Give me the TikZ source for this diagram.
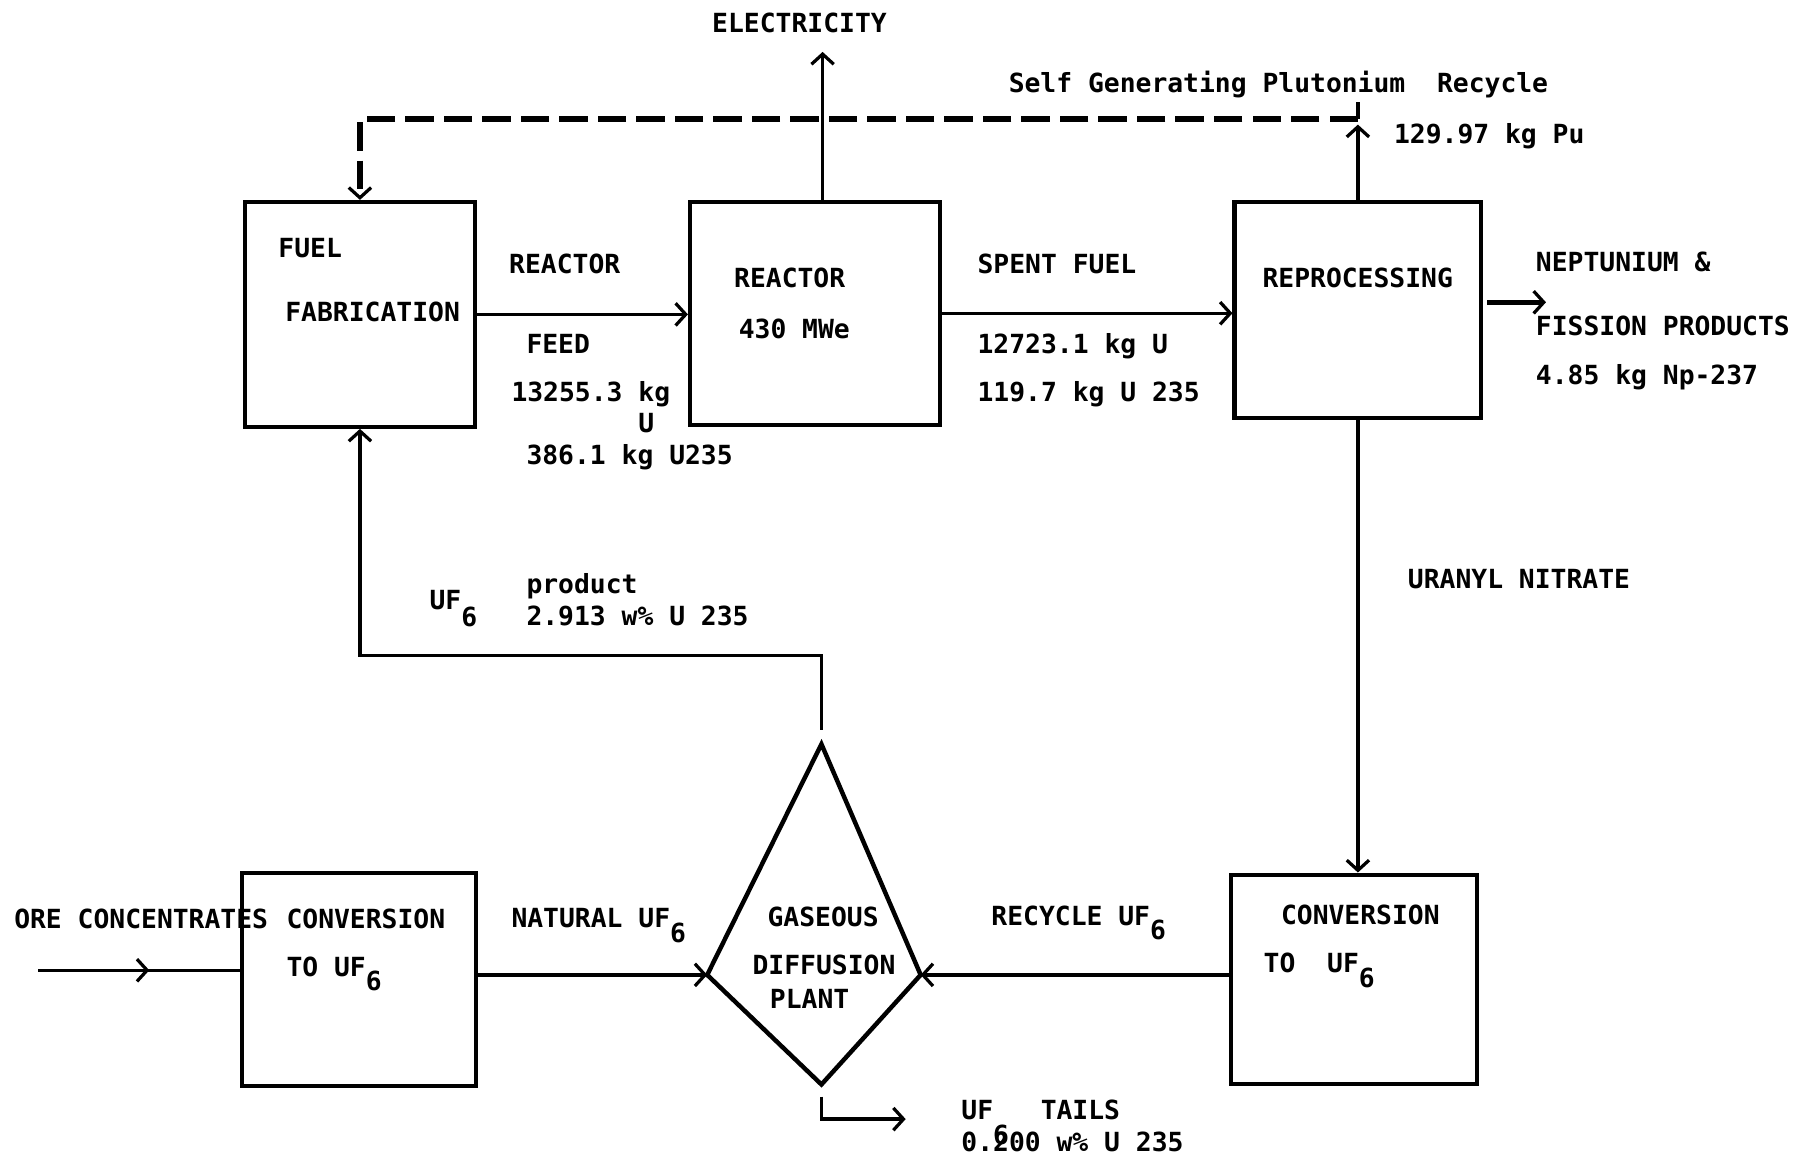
\documentclass[tikz,border=0pt]{standalone}
\usepackage{fontspec}
\newfontfamily\typewriter{DejaVu Sans Mono}
\usetikzlibrary{arrows.meta,decorations.markings}
\newcommand{\low}[2][0.55em]{\raisebox{-#1}{#2}}

\begin{document}
\begin{tikzpicture}[x=0.02cm, y=-0.02cm,
  >={Straight Barb[length=5pt,width=11pt,line width=1.6pt]},
  box/.style={draw, line width=2pt, inner sep=0pt},
  flow/.style={->, line width=1.7pt},
  txt/.style={anchor=base west, inner sep=0pt,
    font=\typewriter\bfseries\fontsize{13}{15}\selectfont}]

  \useasboundingbox (0,0) rectangle (1568,1004);

  % process boxes
  \node[box, minimum width=4cm,    minimum height=3.9cm]  (fuel)    at (312,272.5)    {};
  \node[box, minimum width=4.34cm, minimum height=3.86cm] (reactor) at (706.5,271.5)  {};
  \node[box, minimum width=4.28cm, minimum height=3.74cm] (repro)   at (1177,268.5)   {};
  \node[box, minimum width=4.06cm, minimum height=3.68cm] (convL)   at (311.5,849)    {};
  \node[box, minimum width=4.26cm, minimum height=3.64cm] (convR)   at (1173.5,849)   {};

  % diffusion plant (kite)
  \coordinate (dtop)   at (712,645);
  \coordinate (dleft)  at (613,845);
  \coordinate (dright) at (798,845);
  \coordinate (dbot)   at (712,940);
  \draw[line width=2.2pt, line join=miter] (dtop) -- (dright) -- (dbot) -- (dleft) -- cycle;

  % free ends
  \coordinate (elecend) at (713,45);
  \coordinate (pujoin)  at (1177,103);
  \coordinate (putip)   at (1177,108);
  \coordinate (npend)   at (1340,262);
  \coordinate (ore)     at (33,841);
  \coordinate (tails)   at (785,970);

  % main flows
  \draw[flow] (fuel.east) -- (fuel.east -| reactor.west);
  \draw[flow] (reactor.east) -- (reactor.east -| repro.west);
  \draw[flow] (elecend |- reactor.north) -- (elecend);
  \draw[flow] (repro.north) -- (putip);
  \draw[line width=1.7pt] (pujoin) -- ++(0,-15);
  \draw[flow, line width=2.2pt] ([xshift=2pt]repro.east |- npend) -- (npend);
  \draw[flow] (repro.south) -- (repro.south |- convR.north);
  \draw[flow] (convR.west |- dright) -- (dright);
  \draw[flow, line width=2pt] (convL.east |- dleft) -- (dleft);
  \draw[flow, shorten <=7pt] (dtop) -- ++(0,-77) -| (fuel.south);
  \draw[flow, shorten <=6pt] (dbot) |- (tails);
  \draw[line width=1.7pt, postaction={decorate},
    decoration={markings, mark=at position 0.55 with {\arrow{>}}}]
    (ore) -- (ore -| convL.west);

  % plutonium recycle (dashed)
  \draw[->, line width=3pt, dash pattern=on 14pt off 5pt] (pujoin) -| (fuel.north);

  % labels
  \node[txt] (elec)   at (617,28)  {ELECTRICITY};
  \node[txt] (selfgen) at (874,80) {Self Generating Plutonium~ Recycle};
  \node[txt] (pu)     at (1208,124) {129.97 kg Pu};
  \node[txt] (fuelA)  at (241,223) {FUEL};
  \node[txt] (fuelB)  at (247,279) {FABRICATION};
  \node[txt] (feedA)  at (441,237) {REACTOR};
  \node[txt] (feedB)  at (456,306) {FEED};
  \node[txt] (feedC)  at (443,348) {13255.3 kg};
  \node[txt] (feedD)  at (553,375) {U};
  \node[txt] (feedE)  at (456,403) {386.1 kg U235};
  \node[txt] (reacA)  at (636,249) {REACTOR};
  \node[txt] (reacB)  at (640,293) {430 MWe};
  \node[txt] (spentA) at (847,237) {SPENT FUEL};
  \node[txt] (spentB) at (847,306) {12723.1 kg U};
  \node[txt] (spentC) at (847,348) {119.7 kg U 235};
  \node[txt] (reproA) at (1094,249) {REPROCESSING};
  \node[txt] (npA)    at (1331,235) {NEPTUNIUM \&};
  \node[txt] (npB)    at (1331,291) {FISSION PRODUCTS};
  \node[txt] (npC)    at (1331,333) {4.85 kg Np-237};
  \node[txt] (uranyl) at (1220,510) {URANYL NITRATE};
  \node[txt] (prodA)  at (372,528) {UF\low[0.65em]{6}};
  \node[txt] (prodB)  at (456,514) {product};
  \node[txt] (prodC)  at (456,542) {2.913 w\% U 235};
  \node[txt] (oreA)   at (12,805)  {ORE CONCENTRATES};
  \node[txt] (convLA) at (248,805) {CONVERSION};
  \node[txt] (convLB) at (248,846) {TO UF\low{6}};
  \node[txt] (natural) at (443,804) {NATURAL UF\low{6}};
  \node[txt] (gasA)   at (665,803) {GASEOUS};
  \node[txt] (gasB)   at (652,845) {DIFFUSION};
  \node[txt] (gasC)   at (667,874) {PLANT};
  \node[txt] (recyc)  at (859,802) {RECYCLE UF\low{6}};
  \node[txt] (convRA) at (1110,801) {CONVERSION};
  \node[txt] (convRB) at (1095,843) {TO~ UF\low{6}};
  \node[txt] (tailA)  at (833,970) {UF\low[0.95em]{6}~ TAILS};
  \node[txt] (tailB)  at (833,998) {0.200 w\% U 235};

\end{tikzpicture}
\end{document}
